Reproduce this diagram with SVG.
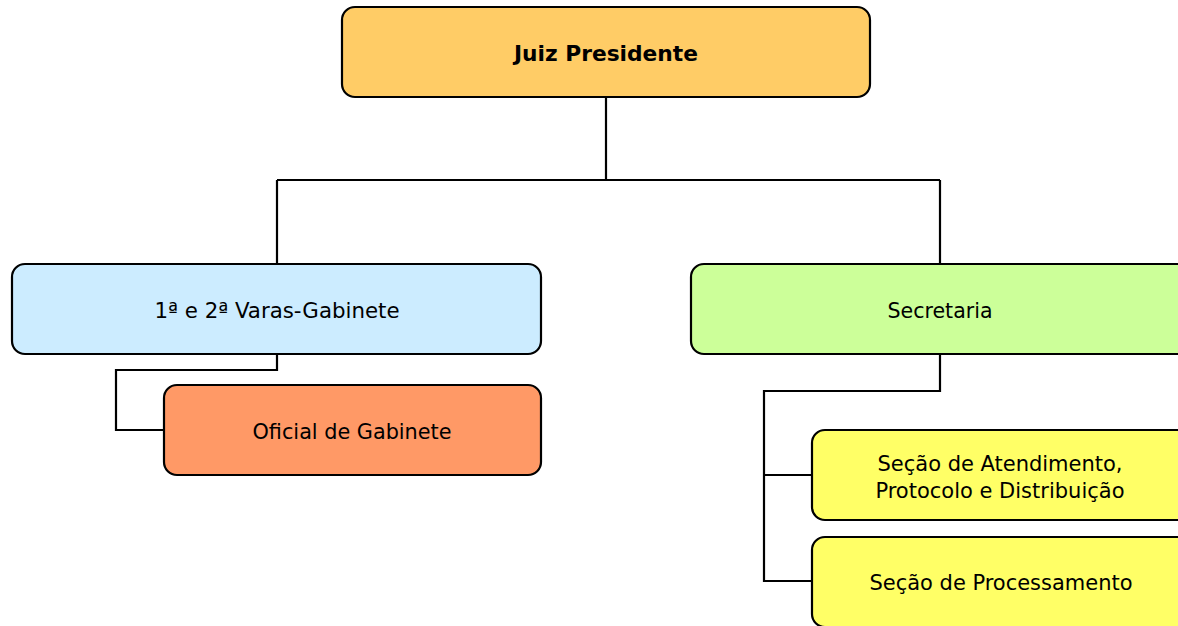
<svg xmlns="http://www.w3.org/2000/svg" width="1178" height="626" viewBox="0 0 1178 626">
<style>
.box{stroke:#000;stroke-width:2.2}
.t{font-family:"DejaVu Sans Condensed","DejaVu Sans",sans-serif;font-size:22px;fill:#000;text-anchor:middle}
.b{font-weight:bold}
.c{fill:none;stroke:#000;stroke-width:2.2}
</style>
<rect width="1178" height="626" fill="#fff"/>
<g id="connectors">
<path class="c" d="M606 97V180M277 180H940M277 180V264M940 180V264"/>
<path class="c" d="M277 354V370H116V430H164"/>
<path class="c" d="M940 354V391H764V581H812M764 475H812"/>
</g>
<g id="juiz">
<rect class="box" x="342" y="7" width="528" height="90" rx="13" fill="#FFCC66"/>
<text class="t b" x="606" y="61" textLength="184" lengthAdjust="spacingAndGlyphs">Juiz Presidente</text>
</g>
<g id="varas">
<rect class="box" x="12" y="264" width="529" height="90" rx="13" fill="#CCECFF"/>
<text class="t" x="277" y="318" textLength="245" lengthAdjust="spacingAndGlyphs">1ª e 2ª Varas-Gabinete</text>
</g>
<g id="oficial">
<rect class="box" x="164" y="385" width="377" height="90" rx="13" fill="#FF9966"/>
<text class="t" x="352" y="439" textLength="199" lengthAdjust="spacingAndGlyphs">Oficial de Gabinete</text>
</g>
<g id="secretaria">
<rect class="box" x="691" y="264" width="520" height="90" rx="13" fill="#CCFF99"/>
<text class="t" x="940" y="318" textLength="105" lengthAdjust="spacingAndGlyphs">Secretaria</text>
</g>
<g id="atendimento">
<rect class="box" x="812" y="430" width="400" height="90" rx="13" fill="#FFFF66"/>
<text class="t" x="1000" y="471" textLength="245" lengthAdjust="spacingAndGlyphs">Seção de Atendimento,</text>
<text class="t" x="1000" y="498" textLength="249" lengthAdjust="spacingAndGlyphs">Protocolo e Distribuição</text>
</g>
<g id="processamento">
<rect class="box" x="812" y="537" width="400" height="90" rx="13" fill="#FFFF66"/>
<text class="t" x="1001" y="590" textLength="263" lengthAdjust="spacingAndGlyphs">Seção de Processamento</text>
</g>
</svg>
